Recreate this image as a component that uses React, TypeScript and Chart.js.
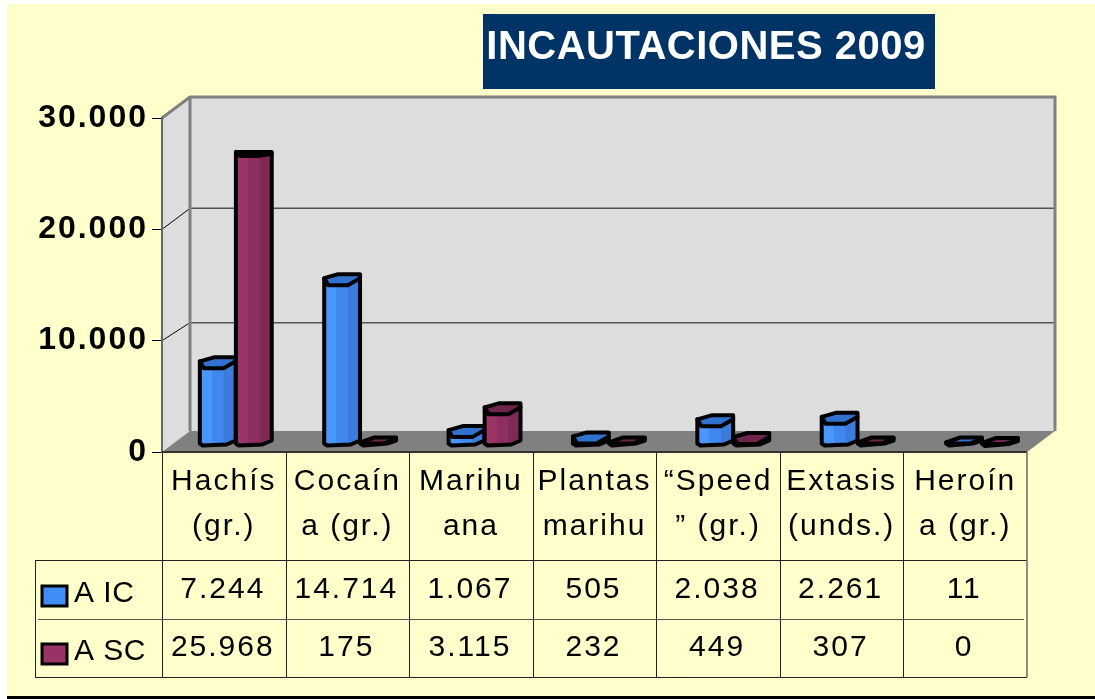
import React, { useEffect, useRef } from "react";
import { Chart, registerables } from "chart.js";

Chart.register(...registerables);

const categories = [
  ["Hachís", "(gr.)"],
  ["Cocaín", "a (gr.)"],
  ["Marihu", "ana"],
  ["Plantas", "marihu"],
  ["“Speed", "” (gr.)"],
  ["Extasis", "(unds.)"],
  ["Heroín", "a (gr.)"],
];
const seriesNames = ["A IC", "A SC"];
const aic = [7244, 14714, 1067, 505, 2038, 2261, 11];
const asc = [25968, 175, 3115, 232, 449, 307, 0];
const yTicks = [0, 10000, 20000, 30000];
const titleText = "INCAUTACIONES 2009";

const fmt = (v: number) => String(v).replace(/\B(?=(\d{3})+(?!\d))/g, ".");

const FONT = '"Liberation Sans", Arial, sans-serif';
const DEPTH_X = 28;
const DEPTH_Y = 21;
const BAR_SHIFT_Y = 6;
const LETTER = "2px";

const palette = [
  { light: "#4a96ff", mid: "#4188ee", side: "#3b7bdc", top: "#3272cf" },
  { light: "#9b3467", mid: "#8f2f5f", side: "#7f2a55", top: "#6f244b" },
];

function drawBar(ctx: CanvasRenderingContext2D, el: any, ds: number, value: number, L: number) {
  const c = palette[ds];
  const w = el.width;
  const shift = 12 + (el.x - L - 62) * 0.0065;
  const x0 = el.x + shift - w / 2;
  const x1 = x0 + w;
  const xf = x0 + w * 0.66;
  const base = el.base - BAR_SHIFT_Y;
  const y = el.y - BAR_SHIFT_Y;
  const tall = value > 20000;
  const flat = base - y < 3;
  const topBack = tall ? y - 5 : flat ? base - 8 : y - 8;
  const frontTop = tall ? y - 1 : flat ? base - 2 : y + 3;
  const leftTop = tall ? y - 5 : flat ? base - 3 : y - 4;
  const rightFront = tall ? y - 3 : flat ? base - 7 : y - 4;

  ctx.save();
  ctx.lineJoin = "round";
  ctx.lineCap = "round";
  const outline = () => {
    ctx.beginPath();
    ctx.moveTo(x0 + 3, base);
    ctx.lineTo(x0, base - 2);
    ctx.lineTo(x0, leftTop);
    ctx.lineTo(x0 + (tall ? 1 : 14), topBack);
    ctx.lineTo(x1, topBack);
    ctx.lineTo(x1, base - 5);
    ctx.lineTo(xf + 3, base - (flat ? 2 : 1));
    ctx.lineTo(x0 + 3, base);
    ctx.closePath();
  };
  outline();
  ctx.fillStyle = c.side;
  ctx.fill();
  const g = ctx.createLinearGradient(x0, 0, xf, 0);
  g.addColorStop(0, c.light);
  g.addColorStop(0.5, c.light);
  g.addColorStop(0.51, c.mid);
  g.addColorStop(1, c.mid);
  ctx.fillStyle = g;
  ctx.fillRect(x0, frontTop, xf - x0, Math.max(0, base - frontTop));
  ctx.beginPath();
  ctx.moveTo(x0, leftTop);
  ctx.lineTo(x0 + (tall ? 1 : 14), topBack);
  ctx.lineTo(x1, topBack);
  ctx.lineTo(x1, rightFront);
  ctx.lineTo(xf, frontTop);
  ctx.lineTo(x0 + 4, frontTop);
  ctx.closePath();
  ctx.fillStyle = tall ? "#000000" : c.top;
  ctx.fill();
  ctx.strokeStyle = "#000000";
  ctx.lineWidth = 4;
  ctx.beginPath();
  ctx.moveTo(x0, leftTop);
  ctx.lineTo(x0 + 4, frontTop);
  ctx.lineTo(xf, frontTop);
  ctx.lineTo(x1, rightFront);
  ctx.stroke();
  outline();
  ctx.stroke();
  ctx.restore();
}

const scene = {
  id: "scene",
  beforeDraw(chart: any) {
    const { ctx, chartArea: a, scales } = chart;
    const yS = scales.y;
    ctx.save();
    ctx.fillStyle = "#ffffff";
    ctx.fillRect(0, 0, 1095, 699);
    ctx.fillStyle = "#ffffcc";
    ctx.fillRect(7, 4, 1088, 692);
    ctx.fillStyle = "#000000";
    ctx.fillRect(7, 696, 1088, 3);

    ctx.fillStyle = "#003366";
    ctx.fillRect(483, 14, 452, 75);
    ctx.fillStyle = "#ffffff";
    ctx.font = `bold 40px ${FONT}`;
    ctx.letterSpacing = "0.5px";
    ctx.textAlign = "center";
    ctx.textBaseline = "middle";
    ctx.fillText(titleText, 706, 48);
    ctx.letterSpacing = "0px";

    const L = a.left, R = a.right, T = a.top, B = a.bottom;
    ctx.fillStyle = "#dddddd";
    ctx.fillRect(L + DEPTH_X, T - DEPTH_Y, R - L, B - T);
    ctx.beginPath();
    ctx.moveTo(L, T);
    ctx.lineTo(L + DEPTH_X, T - DEPTH_Y);
    ctx.lineTo(L + DEPTH_X, B - DEPTH_Y);
    ctx.lineTo(L, B);
    ctx.closePath();
    ctx.fill();
    ctx.fillStyle = "#808080";
    ctx.beginPath();
    ctx.moveTo(L, B);
    ctx.lineTo(L + DEPTH_X, B - DEPTH_Y);
    ctx.lineTo(R + DEPTH_X, B - DEPTH_Y);
    ctx.lineTo(R, B);
    ctx.closePath();
    ctx.fill();
    for (const v of yTicks) {
      if (v === 0 || v === 30000) continue;
      const py = yS.getPixelForValue(v);
      const dy = v === 10000 ? DEPTH_Y - 3 : DEPTH_Y;
      ctx.strokeStyle = "#000000";
      ctx.lineWidth = 1;
      ctx.beginPath();
      ctx.moveTo(L, py);
      ctx.lineTo(L + DEPTH_X, py - dy);
      ctx.stroke();
      ctx.strokeStyle = "#555555";
      ctx.lineWidth = 1.5;
      ctx.beginPath();
      ctx.moveTo(L + DEPTH_X, py - dy);
      ctx.lineTo(R + DEPTH_X, py - dy);
      ctx.stroke();
    }
    ctx.strokeStyle = "#808080";
    ctx.lineWidth = 3;
    ctx.beginPath();
    ctx.moveTo(L, T);
    ctx.lineTo(L + DEPTH_X, T - DEPTH_Y);
    ctx.lineTo(R + DEPTH_X, T - DEPTH_Y);
    ctx.lineTo(R + DEPTH_X, B - DEPTH_Y);
    ctx.moveTo(L + DEPTH_X, T - DEPTH_Y);
    ctx.lineTo(L + DEPTH_X, B - DEPTH_Y);
    ctx.stroke();
    ctx.restore();
    ctx.letterSpacing = LETTER;
  },
  beforeDatasetDraw() {
    return false;
  },
  afterDatasetsDraw(chart: any) {
    const { ctx, chartArea: a } = chart;
    const metas = [chart.getDatasetMeta(0), chart.getDatasetMeta(1)];
    for (let i = 0; i < categories.length; i++) {
      metas.forEach((m, ds) => {
        drawBar(ctx, m.data[i], ds, chart.data.datasets[ds].data[i], a.left);
      });
    }
  },
  afterDraw(chart: any) {
    const { ctx, chartArea: a, scales } = chart;
    const xS = scales.x;
    const step = (a.right - a.left) / categories.length;
    const rows = [560, 619, 677];
    const tableLeft = 35;
    ctx.save();
    ctx.strokeStyle = "#333333";
    ctx.lineWidth = 2;
    ctx.beginPath();
    ctx.moveTo(a.left, a.bottom);
    ctx.lineTo(a.right, a.bottom);
    ctx.stroke();
    ctx.strokeStyle = "#222222";
    ctx.lineWidth = 1;
    ctx.beginPath();
    for (let i = 0; i < categories.length; i++) {
      const px = Math.round(a.left + i * step) + 0.5;
      ctx.moveTo(px, a.bottom);
      ctx.lineTo(px, rows[2]);
    }
    ctx.moveTo(tableLeft + 0.5, rows[0] + 0.5);
    ctx.lineTo(tableLeft + 0.5, rows[2] + 0.5);
    ctx.moveTo(tableLeft, rows[0] + 0.5);
    ctx.lineTo(a.right, rows[0] + 0.5);
    ctx.moveTo(tableLeft, rows[2] + 0.5);
    ctx.lineTo(a.right, rows[2] + 0.5);
    ctx.stroke();
    ctx.strokeStyle = "#666666";
    ctx.lineWidth = 1.5;
    ctx.beginPath();
    ctx.moveTo(a.right, a.bottom);
    ctx.lineTo(a.right, rows[2] + 0.5);
    ctx.stroke();
    ctx.lineWidth = 1;
    ctx.strokeStyle = "#555555";
    ctx.beginPath();
    ctx.moveTo(38, rows[1] + 0.5);
    ctx.lineTo(a.right - 3, rows[1] + 0.5);
    ctx.stroke();
    ctx.fillStyle = "#000000";
    ctx.font = `30px ${FONT}`;
    ctx.textBaseline = "middle";
    const rowY = [590, 648];
    chart.data.datasets.forEach((d: any, ds: number) => {
      ctx.textAlign = "center";
      ctx.fillStyle = "#000000";
      ctx.letterSpacing = LETTER;
      d.data.forEach((v: number, i: number) => {
        ctx.fillText(fmt(v), xS.getPixelForValue(i) - 1, rowY[ds]);
      });
      const ky = ds === 0 ? 586 : 644;
      ctx.fillStyle = d.backgroundColor;
      ctx.fillRect(42, ky, 25, 20);
      ctx.strokeStyle = "#000000";
      ctx.lineWidth = 3;
      ctx.strokeRect(42, ky, 25, 20);
      ctx.fillStyle = "#000000";
      ctx.textAlign = "left";
      ctx.letterSpacing = "0.5px";
      ctx.fillText(d.label, 74, rowY[ds] + 4);
    });
    ctx.restore();
  },
};

export default function App() {
  const ref = useRef<HTMLCanvasElement>(null);
  useEffect(() => {
    document.body.style.margin = "0";
    const chart = new Chart(ref.current as HTMLCanvasElement, {
      type: "bar",
      data: {
        labels: categories,
        datasets: [
          { label: seriesNames[0], data: aic, backgroundColor: "#3f8cf5" },
          { label: seriesNames[1], data: asc, backgroundColor: "#993366" },
        ],
      },
      options: {
        responsive: false,
        animation: false,
        layout: { padding: { top: 118, right: 68, left: 0, bottom: 0 } },
        datasets: { bar: { categoryPercentage: 0.58, barPercentage: 1 } },
        plugins: { legend: { display: false }, tooltip: { enabled: false } },
        scales: {
          x: {
            grid: { display: false },
            border: { display: false },
            ticks: {
              color: "#000000",
              maxRotation: 0,
              minRotation: 0,
              autoSkip: false,
              padding: -1,
              font: { family: FONT, size: 30, lineHeight: 45 / 30 },
            },
            afterFit: (s: any) => {
              s.height = 247;
            },
          },
          y: {
            min: 0,
            max: 30000,
            ticks: {
              stepSize: 10000,
              color: "#000000",
              padding: 4,
              font: { family: FONT, size: 32, weight: "bold" },
              callback: (v: any) => fmt(Number(v)),
            },
            grid: { drawOnChartArea: false, tickLength: 10, color: "#000000", lineWidth: 1 },
            border: { display: true, color: "#666666", width: 2 },
            afterFit: (s: any) => {
              s.width = 162;
            },
          },
        },
      },
      plugins: [scene],
    } as any);
    return () => chart.destroy();
  }, []);
  return <canvas ref={ref} width={1095} height={699} style={{ display: "block" }} />;
}
